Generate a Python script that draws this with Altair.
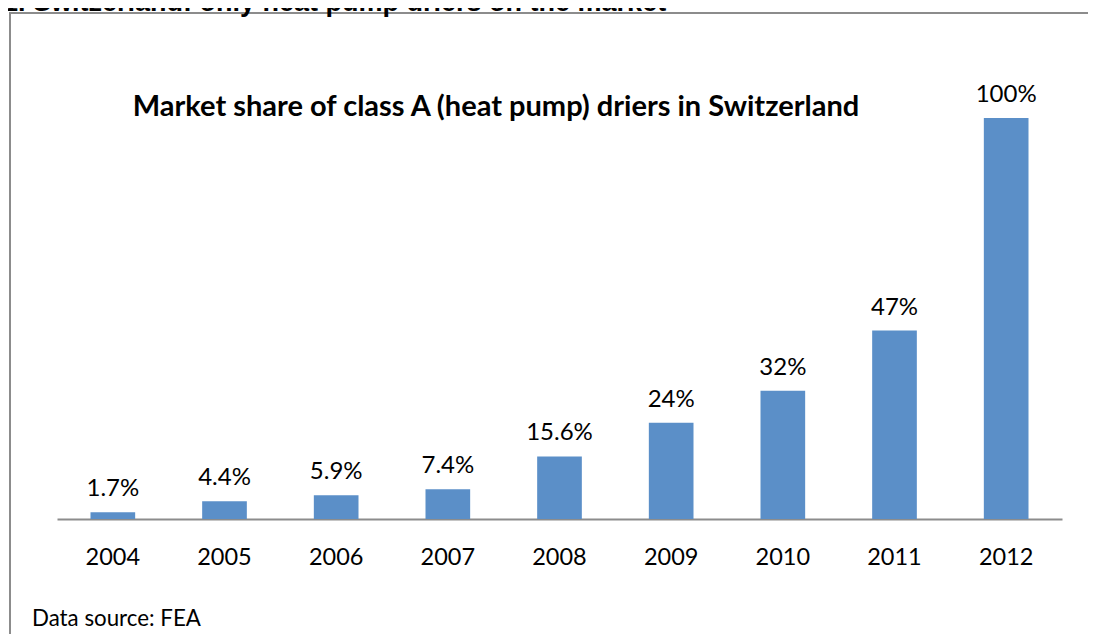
import altair as alt
import pandas as pd

years = ["2004", "2005", "2006", "2007", "2008", "2009", "2010", "2011", "2012"]
shares = [1.7, 4.4, 5.9, 7.4, 15.6, 24, 32, 47, 100]
labels = ["1.7%", "4.4%", "5.9%", "7.4%", "15.6%", "24%", "32%", "47%", "100%"]

heading = "1. Switzerland: only heat pump driers on the market"
title = "Market share of class A (heat pump) driers in Switzerland"
source = "Data source: FEA"

df = pd.DataFrame({"year": years, "share": shares, "label": labels})
one = pd.DataFrame({"d": [0]})

FONT = "Lato"
BAR = "#5B8FC8"
GRAY = "#8c8c8c"

x_enc = alt.X(
    "year:N",
    sort=None,
    scale=alt.Scale(paddingInner=0.6, paddingOuter=0.3),
    axis=alt.Axis(
        title=None,
        labelAngle=0,
        labelFont=FONT,
        labelFontSize=23.5,
        labelColor="#000000",
        labelBaseline="alphabetic",
        labelPadding=45,
        ticks=False,
        grid=False,
        domainColor=GRAY,
        domainWidth=2,
    ),
)
y_enc = alt.Y("share:Q", scale=alt.Scale(domain=[0, 100]), axis=None)

base = alt.Chart(df)
bars = base.mark_bar(color=BAR).encode(x=x_enc, y=y_enc)
vals = base.mark_text(
    font=FONT, fontSize=24, color="#000000", baseline="alphabetic", dy=-16
).encode(x=x_enc, y=y_enc, text="label:N")

border_left = alt.Chart(one).mark_rule(color=GRAY, strokeWidth=2).encode(
    x=alt.value(-47), y=alt.value(-105), y2=alt.value(520)
)
border_top = alt.Chart(one).mark_rule(color=GRAY, strokeWidth=2).encode(
    x=alt.value(-48), x2=alt.value(1040), y=alt.value(-105)
)

heading_t = alt.Chart(one).mark_text(
    text=heading, font="Liberation Sans", fontWeight="bold", fontSize=27,
    align="left", baseline="alphabetic", color="#000000"
).encode(x=alt.value(-54), y=alt.value(-107))

title_t = alt.Chart(one).mark_text(
    text=title, font=FONT, fontWeight="bold", fontSize=29,
    align="center", baseline="alphabetic", color="#000000"
).encode(x=alt.value(439), y=alt.value(-2))

source_t = alt.Chart(one).mark_text(
    text=source, font=FONT, fontSize=22.3,
    align="left", baseline="alphabetic", color="#000000"
).encode(x=alt.value(-25), y=alt.value(508))

chart = alt.layer(
    border_left, border_top, heading_t, title_t, bars, vals, source_t
).properties(
    width=1005,
    height=401,
    background="white",
    autosize=alt.AutoSizeParams(type="none"),
    padding={"left": 49, "top": 110, "right": 26, "bottom": 115},
).configure_view(strokeWidth=0, stroke=None)

chart.save("out.html", embed_options={"renderer": "svg", "actions": False})
